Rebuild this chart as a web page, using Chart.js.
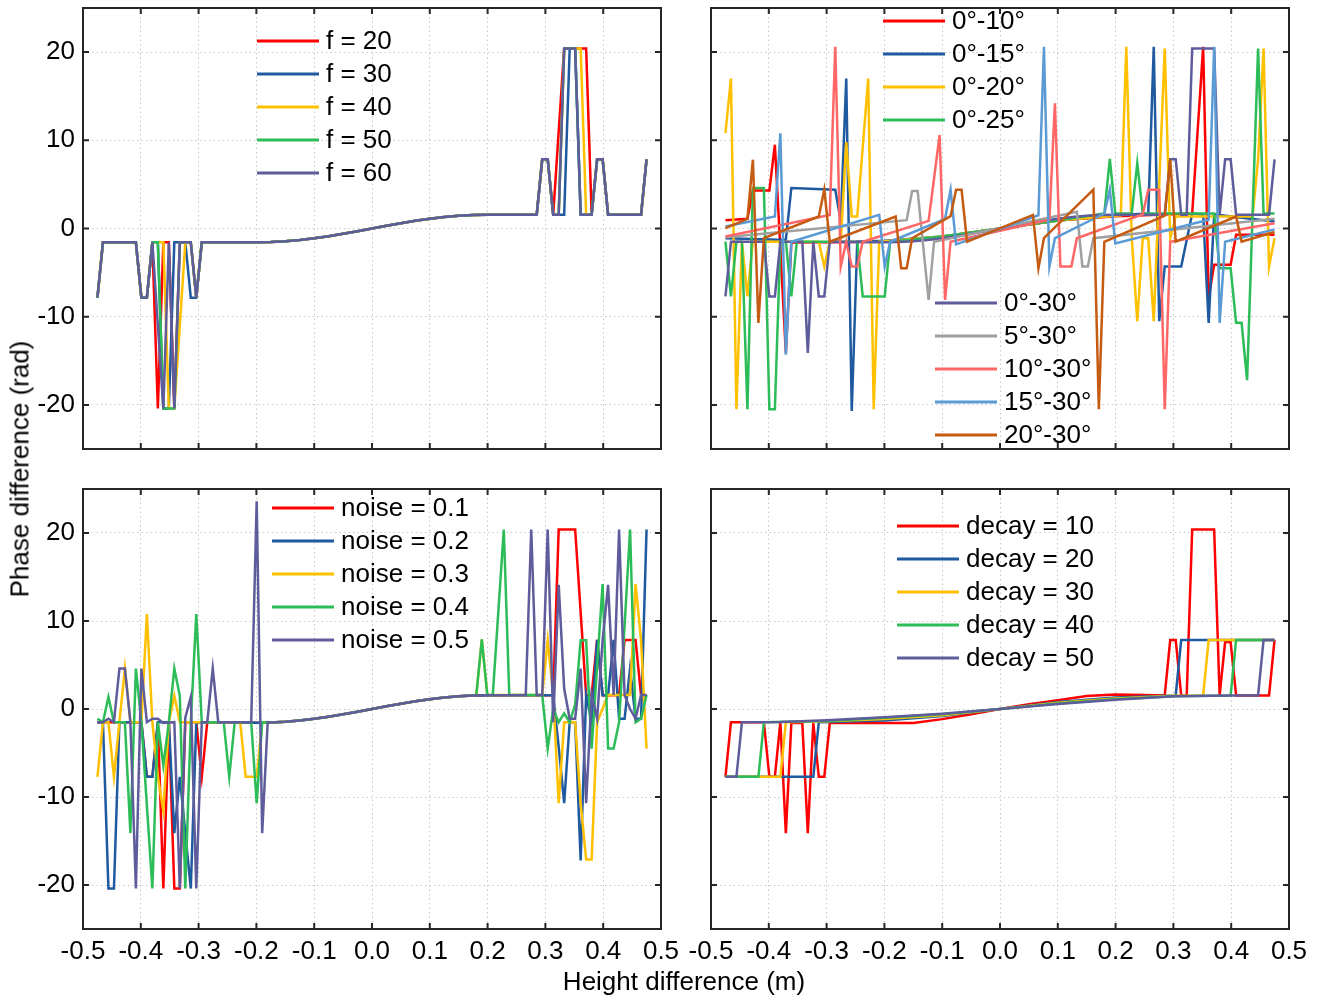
<!DOCTYPE html>
<html lang="en">
  <head>
    <meta charset="UTF-8" />
    <title>Phase difference vs height difference</title>
    <script src="https://cdn.jsdelivr.net/npm/chart.js"></script>
    <style>
      body {
        margin: 0;
        background: #fff;
        font-family: "Liberation Sans", Arial, sans-serif;
      }
      #wrap {
        position: relative;
        width: 1320px;
        height: 998px;
      }
      canvas {
        position: absolute;
      }
      .axis-title {
        position: absolute;
        font-size: 26px;
        color: #000;
        white-space: nowrap;
      }
      .ylab {
        left: 20px;
        top: 469px;
        transform: translate(-50%, -50%) rotate(-90deg);
      }
      .xlab {
        left: 684px;
        top: 981px;
        transform: translate(-50%, -50%);
      }
    </style>
  </head>
  <body>
    <div id="wrap">
      <canvas id="tl" width="690" height="460" style="left:0;top:0"></canvas>
      <canvas id="tr" width="640" height="460" style="left:680px;top:0"></canvas>
      <canvas id="bl" width="690" height="490" style="left:0;top:480px"></canvas>
      <canvas id="br" width="640" height="490" style="left:680px;top:480px"></canvas>
      <div class="axis-title ylab">Phase difference (rad)</div>
      <div class="axis-title xlab">Height difference (m)</div>
    </div>

    <script>
      // axis ticks
      var xTicks = [-0.5, -0.4, -0.3, -0.2, -0.1, 0, 0.1, 0.2, 0.3, 0.4, 0.5];
      var yTicks = [-20, -10, 0, 10, 20];

      // smooth middle part shared by most curves
      var baseCurve = [
        [-0.175, -1.54], [-0.15, -1.45], [-0.125, -1.31], [-0.1, -1.11], [-0.075, -0.87],
        [-0.05, -0.6], [-0.025, -0.31], [0, 0], [0.025, 0.31], [0.05, 0.6], [0.075, 0.87],
        [0.1, 1.11], [0.125, 1.31], [0.15, 1.45], [0.175, 1.54],
      ];

      var colors = ["#ff0000", "#1f5aa0", "#ffc000", "#2cbc58", "#5f5c9c"];

      // ---- top left: frequency ----
      var fNames = ["f = 20", "f = 30", "f = 40", "f = 50", "f = 60"];
      var f20 = [
        [-0.475, -7.85], [-0.4655, -1.57], [-0.4085, -1.57], [-0.399, -7.85], [-0.3895, -7.85], [-0.38, -1.57],
        [-0.3705, -20.4], [-0.361, -1.57], [-0.3515, -1.57], [-0.342, -20.4], [-0.3325, -1.57], [-0.3135, -1.57],
        [-0.304, -7.85], [-0.2945, -1.57], [-0.2, -1.57],
        ...baseCurve,
        [0.2, 1.57], [0.285, 1.57], [0.2945, 7.85], [0.304, 7.85], [0.3135, 1.57], [0.3325, 20.4], [0.3705, 20.4],
        [0.38, 1.57], [0.3895, 7.85], [0.399, 7.85], [0.4085, 1.57], [0.4655, 1.57], [0.475, 7.85],
      ];
      var f30 = [
        [-0.475, -7.85], [-0.4655, -1.57], [-0.4085, -1.57], [-0.399, -7.85], [-0.3895, -7.85], [-0.38, -1.57],
        [-0.3705, -1.57], [-0.361, -20.4], [-0.3515, -20.4], [-0.342, -1.57], [-0.323, -1.57], [-0.3135, -7.85],
        [-0.304, -7.85], [-0.2945, -1.57], [-0.2, -1.57],
        ...baseCurve,
        [0.2, 1.57], [0.285, 1.57], [0.2945, 7.85], [0.304, 7.85], [0.3135, 1.57], [0.3325, 1.57], [0.342, 20.4],
        [0.3515, 20.4], [0.361, 1.57], [0.38, 1.57], [0.3895, 7.85], [0.399, 7.85], [0.4085, 1.57], [0.4655, 1.57],
        [0.475, 7.85],
      ];
      var f40 = [
        [-0.475, -7.85], [-0.4655, -1.57], [-0.4085, -1.57], [-0.399, -7.85], [-0.3895, -7.85], [-0.38, -1.57],
        [-0.361, -1.57], [-0.3515, -20.4], [-0.342, -20.4], [-0.323, -1.57], [-0.3135, -1.57], [-0.304, -7.85],
        [-0.2945, -1.57], [-0.2, -1.57],
        ...baseCurve,
        [0.2, 1.57], [0.285, 1.57], [0.2945, 7.85], [0.304, 7.85], [0.3135, 1.57], [0.323, 1.57], [0.3325, 20.4],
        [0.361, 20.4], [0.3705, 1.57], [0.38, 1.57], [0.3895, 7.85], [0.399, 7.85], [0.4085, 1.57], [0.4655, 1.57],
        [0.475, 7.85],
      ];
      var f50 = [
        [-0.475, -7.85], [-0.4655, -1.57], [-0.4085, -1.57], [-0.399, -7.85], [-0.3895, -7.85], [-0.38, -1.57],
        [-0.3705, -1.57], [-0.361, -20.4], [-0.342, -20.4], [-0.3325, -1.57], [-0.3135, -1.57], [-0.304, -7.85],
        [-0.2945, -1.57], [-0.2, -1.57],
        ...baseCurve,
        [0.2, 1.57], [0.285, 1.57], [0.2945, 7.85], [0.304, 7.85], [0.3135, 1.57], [0.323, 1.57], [0.3325, 20.4],
        [0.3515, 20.4], [0.361, 1.57], [0.38, 1.57], [0.3895, 7.85], [0.399, 7.85], [0.4085, 1.57], [0.4655, 1.57],
        [0.475, 7.85],
      ];
      var f60 = [
        [-0.475, -7.85], [-0.4655, -1.57], [-0.4085, -1.57], [-0.399, -7.85], [-0.3895, -7.85], [-0.38, -1.57],
        [-0.361, -20.4], [-0.3515, -1.57], [-0.342, -20.4], [-0.3325, -1.57], [-0.3135, -1.57], [-0.304, -7.85],
        [-0.2945, -1.57], [-0.2, -1.57],
        ...baseCurve,
        [0.2, 1.57], [0.285, 1.57], [0.2945, 7.85], [0.304, 7.85], [0.3135, 1.57], [0.323, 1.57], [0.3325, 20.4],
        [0.3515, 20.4], [0.361, 1.57], [0.38, 1.57], [0.3895, 7.85], [0.399, 7.85], [0.4085, 1.57], [0.4655, 1.57],
        [0.475, 7.85],
      ];

      // ---- top right: angle range ----
      var angNames = ["0°-10°", "0°-15°", "0°-20°", "0°-25°", "0°-30°", "5°-30°", "10°-30°", "15°-30°", "20°-30°"];
      var angColors = ["#ff0000", "#1f5aa0", "#ffc000", "#2cbc58", "#5f5c9c", "#a0a0a0", "#ff6666", "#5b9bd5", "#c55a11"];
      var a0_10 = [
        [-0.475, 0.94], [-0.437, 1.1], [-0.4275, 4.3], [-0.399, 4.3], [-0.3895, 9.5], [-0.3705, -14.1], [-0.361, -1.6],
        [-0.2, -1.5], [-0.1, -1.0], [0, 0], [0.1, 0.9], [0.2, 1.4], [0.3325, 1.7], [0.3515, 20.6], [0.361, -7.9],
        [0.3705, -4.1], [0.399, -4.1], [0.4085, -0.7], [0.475, -0.7],
      ];
      var a0_15 = [
        [-0.475, -1.1], [-0.3705, -1.3], [-0.361, 4.6], [-0.285, 4.4], [-0.2755, 0.8], [-0.266, 17.0], [-0.2565, -20.7],
        [-0.247, -1.5], [-0.2, -1.4], [-0.1, -0.9], [0, 0], [0.1, 0.9], [0.2, 1.5], [0.2565, 1.7], [0.266, 20.6],
        [0.2755, -10.5], [0.285, -4.3], [0.3135, -4.3], [0.3325, 1.7], [0.3515, 1.6], [0.361, -10.7], [0.3705, 1.6],
        [0.475, 0.8],
      ];
      var a0_20 = [
        [-0.475, 10.8], [-0.4655, 17.0], [-0.456, -20.5], [-0.4465, -1.5], [-0.437, -7.7], [-0.4275, -1.5],
        [-0.3135, -1.5], [-0.304, -4.3], [-0.2945, -1.5], [-0.2755, -1.5], [-0.266, 9.8], [-0.2565, 1.36],
        [-0.247, 1.36], [-0.228, 17.0], [-0.2185, -20.5], [-0.209, -1.5], [-0.1, -0.9], [0, 0], [0.1, 0.9],
        [0.209, 1.5], [0.2185, 20.6], [0.228, -1.1], [0.2375, -10.5], [0.247, -1.1], [0.2565, -1.1], [0.266, -10.5],
        [0.285, 20.4], [0.2945, -1.1], [0.304, 1.36], [0.437, 1.36], [0.4465, 7.8], [0.456, 20.4], [0.4655, -4.3],
        [0.475, -1.1],
      ];
      var a0_25 = [
        [-0.475, -1.5], [-0.4655, -7.7], [-0.456, -1.5], [-0.4465, -1.5], [-0.437, -20.5], [-0.4275, 4.6],
        [-0.4085, 4.6], [-0.399, -20.5], [-0.3895, -20.5], [-0.38, -1.5], [-0.3705, -1.5], [-0.361, -7.7],
        [-0.3515, -1.5], [-0.247, -1.5], [-0.2375, -7.7], [-0.1995, -7.7], [-0.19, -1.5], [-0.1, -0.9], [0, 0],
        [0.1, 0.9], [0.1805, 1.7], [0.19, 7.9], [0.1995, 1.7], [0.228, 1.7], [0.2375, 7.4], [0.247, 1.7],
        [0.3705, 1.7], [0.38, -4.5], [0.399, -4.5], [0.4085, -10.7], [0.418, -10.7], [0.4275, -17.2], [0.4465, 20.4],
        [0.456, 1.7], [0.475, 1.7],
      ];
      var a0_30 = [
        [-0.475, -7.7], [-0.4655, -1.5], [-0.4085, -1.5], [-0.399, -7.7], [-0.3895, -7.7], [-0.38, -1.5],
        [-0.342, -1.5], [-0.3325, -14.1], [-0.323, -1.5], [-0.3135, -7.7], [-0.304, -7.7], [-0.2945, -1.5],
        [-0.2, -1.57],
        ...baseCurve,
        [0.2, 1.57], [0.285, 1.57], [0.2945, 7.85], [0.304, 7.85], [0.3135, 1.57], [0.323, 1.57], [0.3325, 20.4],
        [0.3705, 20.4], [0.38, 1.57], [0.3895, 7.85], [0.399, 7.85], [0.4085, 1.57], [0.4655, 1.57], [0.475, 7.85],
      ];
      var a5_30 = [
        [-0.475, -1.0], [-0.1615, 0.95], [-0.152, 4.26], [-0.1425, 4.26], [-0.1235, -8.1], [-0.114, -1.5],
        [0.133, 1.9], [0.1425, -4.3], [0.152, -4.3], [0.1615, -1.1], [0.475, 1.1],
      ];
      var a10_30 = [
        [-0.475, -0.9], [-0.2945, 1.54], [-0.285, 20.6], [-0.2755, -4.3], [-0.266, -1.5], [-0.2565, -4.3],
        [-0.247, -4.3], [-0.2375, -1.5], [-0.1235, 0.87], [-0.1045, 10.6], [-0.095, -8.1], [-0.0855, -1.5],
        [0.0855, 1.0], [0.095, 14.2], [0.1045, -4.3], [0.1235, -4.3], [0.133, -1.1], [0.247, 1.6], [0.2565, 4.4],
        [0.2755, 4.4], [0.285, -20.5], [0.2945, -1.5], [0.475, 0.6],
      ];
      var a15_30 = [
        [-0.475, 0.23], [-0.3895, 1.36], [-0.38, 10.8], [-0.3705, -14.3], [-0.361, -1.5], [-0.209, 1.54],
        [-0.1995, -4.3], [-0.19, -1.5], [-0.095, 1.1], [-0.0855, 4.4], [-0.076, -1.8], [0.0665, 1.5], [0.076, 20.6],
        [0.0855, -4.3], [0.095, -1.1], [0.1805, 1.7], [0.19, 4.4], [0.1995, -1.7], [0.361, 1.0], [0.3705, 20.6],
        [0.38, -10.7], [0.3895, -1.5], [0.475, -0.1],
      ];
      var a20_30 = [
        [-0.475, 0.04], [-0.437, 1.1], [-0.4275, 7.8], [-0.418, -10.7], [-0.4085, -1.1], [-0.3135, 1.36],
        [-0.304, 4.4], [-0.2945, -1.5], [-0.1805, 1.36], [-0.171, -4.5], [-0.1615, -4.5], [-0.152, -1.1],
        [-0.0855, 1.4], [-0.076, 4.4], [-0.0665, 4.4], [-0.057, -1.5], [0.057, 1.54], [0.0665, -4.5], [0.076, -1.1],
        [0.1615, 4.4], [0.171, -20.5], [0.1805, -1.5], [0.285, 1.47], [0.2945, 7.8], [0.304, -1.5], [0.4085, 1.36],
        [0.418, -1.5], [0.475, -0.4],
      ];

      // ---- bottom left: noise ----
      var nNames = ["noise = 0.1", "noise = 0.2", "noise = 0.3", "noise = 0.4", "noise = 0.5"];
      var n01 = [
        [-0.475, -1.5], [-0.399, -1.5], [-0.3895, -7.7], [-0.38, -7.7], [-0.3705, -1.5], [-0.361, -20.4],
        [-0.3515, -1.5], [-0.342, -20.4], [-0.3325, -20.4], [-0.323, -1.5], [-0.304, -1.5], [-0.2945, -7.7],
        [-0.285, -1.5], [-0.2, -1.57],
        ...baseCurve,
        [0.2, 1.57], [0.3135, 1.57], [0.323, 20.4], [0.3515, 20.4], [0.3705, 1.57], [0.38, 1.57], [0.3895, 7.85],
        [0.399, 1.57], [0.4275, 1.57], [0.437, 7.85], [0.456, 7.85], [0.4655, 1.57], [0.475, 1.57],
      ];
      var n02 = [
        [-0.475, -1.5], [-0.4655, -1.5], [-0.456, -20.4], [-0.4465, -20.4], [-0.437, -1.5], [-0.399, -1.5],
        [-0.3895, -7.7], [-0.38, -7.7], [-0.3705, -1.5], [-0.3515, -1.5], [-0.342, -14.1], [-0.3325, -7.7],
        [-0.323, -14.1], [-0.3135, -20.4], [-0.304, -1.5], [-0.2, -1.57],
        ...baseCurve,
        [0.2, 1.57], [0.3135, 1.57], [0.323, -4.3], [0.3325, -10.7], [0.342, -1.5], [0.3515, -1.5], [0.361, -17.2],
        [0.3705, 1.57], [0.38, -1.5], [0.3895, 7.85], [0.399, 1.57], [0.4085, 1.57], [0.418, 7.85], [0.4275, -1.1],
        [0.437, -1.1], [0.4465, 4.6], [0.456, -1.1], [0.4655, -1.1], [0.475, 20.4],
      ];
      var n03 = [
        [-0.475, -7.7], [-0.4655, -1.5], [-0.456, -1.5], [-0.4465, -7.7], [-0.437, -1.5], [-0.4275, 4.6],
        [-0.418, -1.5], [-0.399, -1.5], [-0.3895, 10.8], [-0.38, -1.5], [-0.3705, -7.7], [-0.361, -11.6],
        [-0.3515, -1.5], [-0.342, 1.5], [-0.3325, -1.5], [-0.228, -1.5], [-0.2185, -7.7], [-0.1995, -7.7],
        [-0.19, -1.5],
        ...baseCurve,
        [0.1805, 1.6], [0.19, 7.9], [0.1995, 1.6], [0.2945, 1.6], [0.304, 7.8], [0.3135, 1.6], [0.323, -10.7],
        [0.3325, -1.5], [0.3515, -1.5], [0.361, -10.7], [0.3705, -17.1], [0.38, -17.1], [0.3895, -1.5],
        [0.4085, 1.6], [0.4465, 1.6], [0.456, 14.2], [0.4655, 7.8], [0.475, -4.5],
      ];
      var n04 = [
        [-0.475, -1.1], [-0.4655, -1.5], [-0.456, 1.36], [-0.4465, -1.5], [-0.4275, -1.5], [-0.418, -14.1],
        [-0.4085, 4.6], [-0.399, -1.5], [-0.38, -20.4], [-0.3705, -1.5], [-0.361, -6.4], [-0.3515, -1.5],
        [-0.342, 4.6], [-0.3325, 1.5], [-0.323, -20.4], [-0.3135, -1.5], [-0.304, 10.8], [-0.2945, -1.5],
        [-0.2565, -1.5], [-0.247, -7.7], [-0.2375, -1.5], [-0.209, -1.5], [-0.1995, -10.7], [-0.19, -1.5],
        ...baseCurve,
        [0.1805, 1.6], [0.19, 7.9], [0.1995, 1.6], [0.209, 1.6], [0.228, 20.4], [0.2375, 1.6], [0.2945, 1.6],
        [0.304, -4.5], [0.3135, 0.0], [0.323, -1.5], [0.3325, -0.5], [0.342, -1.5], [0.3515, 0.5], [0.361, 7.8],
        [0.3705, 7.8], [0.38, -4.5], [0.399, 14.2], [0.4085, -4.5], [0.418, -4.5], [0.4275, -1.5], [0.4465, 20.4],
        [0.456, -1.5], [0.4655, -1.1], [0.475, 1.6],
      ];
      var n05 = [
        [-0.475, -1.5], [-0.4655, -1.5], [-0.456, -1.1], [-0.4465, -1.5], [-0.437, 4.6], [-0.4275, 4.6],
        [-0.418, -1.5], [-0.4085, -20.4], [-0.399, 4.6], [-0.3895, -1.5], [-0.38, -1.1], [-0.3705, -1.1],
        [-0.361, -1.6], [-0.342, -1.5], [-0.3325, -20.4], [-0.323, -1.0], [-0.3135, 1.36], [-0.304, -20.4],
        [-0.2945, -1.5], [-0.285, -1.5], [-0.2755, 4.6], [-0.266, -1.5], [-0.209, -1.5], [-0.1995, 23.6],
        [-0.19, -14.1], [-0.1805, -1.5],
        ...baseCurve,
        [0.2, 1.57], [0.266, 1.6], [0.2755, 20.4], [0.285, 1.6], [0.2945, 1.6], [0.304, 20.4], [0.3135, -1.5],
        [0.323, 14.1], [0.3325, 2.3], [0.342, -1.1], [0.3515, -1.1], [0.361, 4.6], [0.3705, -10.7], [0.38, 1.6],
        [0.3895, -1.1], [0.399, 7.8], [0.4085, 14.1], [0.418, 1.6], [0.4275, 20.4], [0.437, 1.6], [0.4465, 0.0],
        [0.456, -1.1], [0.4655, 1.6], [0.475, 1.6],
      ];

      // ---- bottom right: decay ----
      var dNames = ["decay = 10", "decay = 20", "decay = 30", "decay = 40", "decay = 50"];
      var d10 = [
        [-0.475, -7.7], [-0.4655, -1.5], [-0.4085, -1.5], [-0.399, -7.7], [-0.3895, -7.7], [-0.38, -1.5],
        [-0.3705, -14.1], [-0.361, -1.6], [-0.342, -1.6], [-0.3325, -14.1], [-0.323, -1.6], [-0.3135, -7.7],
        [-0.304, -7.7], [-0.2945, -1.6], [-0.2, -1.6], [-0.15, -1.6], [-0.1, -1.15], [-0.05, -0.6], [0, 0],
        [0.05, 0.55], [0.1, 1.0], [0.15, 1.47], [0.2, 1.65], [0.25, 1.58], [0.285, 1.54], [0.2945, 7.85],
        [0.304, 7.85], [0.3135, 1.54], [0.323, 1.54], [0.3325, 20.4], [0.3705, 20.4], [0.38, 1.54], [0.3895, 7.6],
        [0.399, 7.6], [0.4085, 1.54], [0.4655, 1.54], [0.475, 7.85],
      ];
      var d20 = [
        [-0.475, -7.7], [-0.323, -7.7], [-0.3135, -1.5], [-0.2, -1.3], [-0.1, -0.8], [0, 0], [0.1, 0.8],
        [0.2, 1.3], [0.304, 1.54], [0.3135, 7.85], [0.475, 7.85],
      ];
      var d30 = [
        [-0.475, -7.7], [-0.38, -7.7], [-0.3705, -1.5], [-0.3, -1.4], [-0.2, -1.15], [-0.1, -0.7], [0, 0],
        [0.1, 0.7], [0.2, 1.2], [0.3, 1.5], [0.3515, 1.54], [0.361, 7.85], [0.475, 7.85],
      ];
      var d40 = [
        [-0.475, -7.7], [-0.418, -7.7], [-0.4085, -1.5], [-0.3, -1.35], [-0.2, -1.0], [-0.1, -0.6], [0, 0],
        [0.1, 0.62], [0.2, 1.12], [0.3, 1.45], [0.399, 1.54], [0.4085, 7.85], [0.475, 7.85],
      ];
      var d50 = [
        [-0.475, -7.7], [-0.456, -7.7], [-0.4465, -1.5], [-0.38, -1.47], [-0.3, -1.28], [-0.2, -0.94],
        [-0.1, -0.53], [0, 0], [0.1, 0.56], [0.2, 1.05], [0.3, 1.45], [0.4, 1.52], [0.4465, 1.54], [0.456, 7.85],
        [0.475, 7.85],
      ];

      var FONT = { family: '"Liberation Sans", Arial, sans-serif', size: 26 };

      // box round the plot area with inward ticks on all four sides
      var framePlugin = {
        id: "frame",
        afterDraw: function (chart) {
          var ctx = chart.ctx;
          var a = chart.chartArea;
          var xs = chart.scales.x;
          var ys = chart.scales.y;
          ctx.save();
          ctx.strokeStyle = "#262626";
          ctx.lineWidth = 2;
          ctx.strokeRect(a.left, a.top, a.right - a.left, a.bottom - a.top);
          ctx.beginPath();
          xTicks.forEach(function (v) {
            var px = xs.getPixelForValue(v);
            ctx.moveTo(px, a.bottom);
            ctx.lineTo(px, a.bottom - 6);
            ctx.moveTo(px, a.top);
            ctx.lineTo(px, a.top + 6);
          });
          yTicks.forEach(function (v) {
            var py = ys.getPixelForValue(v);
            ctx.moveTo(a.left, py);
            ctx.lineTo(a.left + 6, py);
            ctx.moveTo(a.right, py);
            ctx.lineTo(a.right - 6, py);
          });
          ctx.stroke();
          ctx.restore();
        },
      };

      // legend drawn inside the plot, no box
      var legendPlugin = {
        id: "lineLegend",
        afterDatasetsDraw: function (chart, args, opts) {
          var ctx = chart.ctx;
          var a = chart.chartArea;
          var sets = chart.data.datasets;
          ctx.save();
          ctx.font = FONT.size + "px " + FONT.family;
          ctx.textBaseline = "middle";
          ctx.fillStyle = "#000";
          (opts.groups || []).forEach(function (g) {
            for (var i = g.from; i < g.to; i++) {
              var y = a.top + g.dy + (i - g.from) * 33;
              var x = a.left + g.dx;
              ctx.strokeStyle = sets[i].borderColor;
              ctx.lineWidth = 3;
              ctx.beginPath();
              ctx.moveTo(x, y);
              ctx.lineTo(x + 62, y);
              ctx.stroke();
              ctx.fillText(sets[i].label, x + 69, y + 1);
            }
          });
          ctx.restore();
        },
      };

      function makePanel(id, series, names, cols, opt) {
        new Chart(document.getElementById(id), {
          type: "line",
          data: {
            datasets: series.map(function (s, i) {
              return {
                label: names[i],
                data: s.map(function (p) {
                  return { x: p[0], y: p[1] };
                }),
                borderColor: cols[i],
                backgroundColor: cols[i],
                borderWidth: 2.5,
                pointRadius: 0,
                tension: 0,
                fill: false,
                order: series.length - i,
              };
            }),
          },
          options: {
            responsive: false,
            animation: false,
            events: [],
            layout: { padding: opt.padding },
            plugins: {
              legend: { display: false },
              tooltip: { enabled: false },
              lineLegend: { groups: opt.groups },
            },
            scales: {
              x: {
                type: "linear",
                min: -0.5,
                max: 0.5,
                afterBuildTicks: function (s) {
                  s.ticks = xTicks.map(function (v) {
                    return { value: v };
                  });
                },
                afterFit: function (s) {
                  s.height = opt.xHeight;
                  s.paddingLeft = 0;
                  s.paddingRight = 0;
                },
                ticks: {
                  display: opt.showX,
                  autoSkip: false,
                  maxRotation: 0,
                  padding: 7,
                  color: "#000",
                  font: FONT,
                  callback: function (v) {
                    return Number(v).toFixed(1);
                  },
                },
                grid: { color: "#c8c8c8", lineWidth: 1, drawTicks: false },
                border: { display: false, dash: [1.5, 3] },
              },
              y: {
                type: "linear",
                min: -25,
                max: 25,
                afterBuildTicks: function (s) {
                  s.ticks = yTicks.map(function (v) {
                    return { value: v };
                  });
                },
                afterFit: function (s) {
                  s.width = opt.yWidth;
                  s.paddingTop = 0;
                  s.paddingBottom = 0;
                },
                ticks: { display: opt.showY, padding: 8, color: "#000", font: FONT },
                grid: { color: "#c8c8c8", lineWidth: 1, drawTicks: false },
                border: { display: false, dash: [1.5, 3] },
              },
            },
          },
          plugins: [framePlugin, legendPlugin],
        });
      }

      makePanel("tl", [f20, f30, f40, f50, f60], fNames, colors, {
        padding: { top: 8, right: 29, left: 0, bottom: 0 },
        yWidth: 83, xHeight: 11, showX: false, showY: true,
        groups: [{ from: 0, to: 5, dx: 174, dy: 33 }],
      });

      makePanel("tr", [a0_10, a0_15, a0_20, a0_25, a0_30, a5_30, a10_30, a15_30, a20_30], angNames, angColors, {
        padding: { top: 8, right: 31, left: 0, bottom: 0 },
        yWidth: 31, xHeight: 11, showX: false, showY: false,
        groups: [
          { from: 0, to: 4, dx: 172, dy: 13 },
          { from: 4, to: 9, dx: 224, dy: 295 },
        ],
      });

      makePanel("bl", [n01, n02, n03, n04, n05], nNames, colors, {
        padding: { top: 9, right: 29, left: 0, bottom: 0 },
        yWidth: 83, xHeight: 41, showX: true, showY: true,
        groups: [{ from: 0, to: 5, dx: 189, dy: 19 }],
      });

      makePanel("br", [d10, d20, d30, d40, d50], dNames, colors, {
        padding: { top: 9, right: 31, left: 0, bottom: 0 },
        yWidth: 31, xHeight: 41, showX: true, showY: false,
        groups: [{ from: 0, to: 5, dx: 186, dy: 37 }],
      });
    </script>
  </body>
</html>
